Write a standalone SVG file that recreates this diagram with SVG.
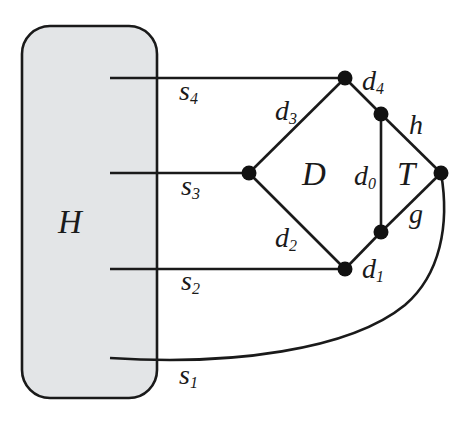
<svg xmlns="http://www.w3.org/2000/svg" width="474" height="440" viewBox="0 0 474 440">
<style>
.e{stroke:#1a1a1a;stroke-width:2.6;fill:none}
.n{fill:#111}
text{font-family:"Liberation Serif","DejaVu Serif",serif;font-style:italic;fill:#1a1a1a}
.l{font-size:28px}
.b{font-size:33px}
.sub{font-size:16px}
</style>
<rect width="474" height="440" fill="#fff"/>
<g id="H">
<rect x="22" y="26" width="135" height="372" rx="28" ry="28" fill="#e3e5e7" stroke="#1a1a1a" stroke-width="2.6"/>
<text class="b" x="58" y="233">H</text>
</g>
<g id="connectors">
<line class="e" x1="110" y1="78" x2="345" y2="78"/>
<line class="e" x1="110" y1="173" x2="249" y2="173"/>
<line class="e" x1="110" y1="269" x2="345" y2="269"/>
<path class="e" d="M110,358 C230,366 350,350 405,305 C440,275 450,225 441,173"/>
<line class="e" x1="345" y1="78" x2="249" y2="173"/>
<line class="e" x1="249" y1="173" x2="345" y2="269"/>
<line class="e" x1="345" y1="78" x2="381" y2="114"/>
<line class="e" x1="381" y1="114" x2="441" y2="173"/>
<line class="e" x1="381" y1="114" x2="381" y2="232"/>
<line class="e" x1="381" y1="232" x2="441" y2="173"/>
<line class="e" x1="345" y1="269" x2="381" y2="232"/>
</g>
<g id="n_d4"><circle class="n" cx="345" cy="78" r="7.5"/></g>
<g id="n_u"><circle class="n" cx="381" cy="114" r="7.5"/></g>
<g id="n_l"><circle class="n" cx="249" cy="173" r="7.5"/></g>
<g id="n_r"><circle class="n" cx="441" cy="173" r="7.5"/></g>
<g id="n_m"><circle class="n" cx="381" cy="232" r="7.5"/></g>
<g id="n_d1"><circle class="n" cx="345" cy="269" r="7.5"/></g>
<g id="labels">
<text class="l" x="179" y="100">s<tspan class="sub" dy="4">4</tspan></text>
<text class="l" x="181" y="195">s<tspan class="sub" dy="4">3</tspan></text>
<text class="l" x="181" y="290">s<tspan class="sub" dy="4">2</tspan></text>
<text class="l" x="179" y="384">s<tspan class="sub" dy="4">1</tspan></text>
<text class="l" x="275" y="120">d<tspan class="sub" dy="4">3</tspan></text>
<text class="l" x="275" y="247">d<tspan class="sub" dy="4">2</tspan></text>
<text class="l" x="362" y="90">d<tspan class="sub" dy="4">4</tspan></text>
<text class="l" x="362" y="278">d<tspan class="sub" dy="4">1</tspan></text>
<text class="l" x="354" y="185">d<tspan class="sub" dy="4">0</tspan></text>
<text class="b" x="302" y="185">D</text>
<text class="b" x="397" y="185">T</text>
<text class="l" x="409" y="134">h</text>
<text class="l" x="409" y="223">g</text>
</g>
</svg>
